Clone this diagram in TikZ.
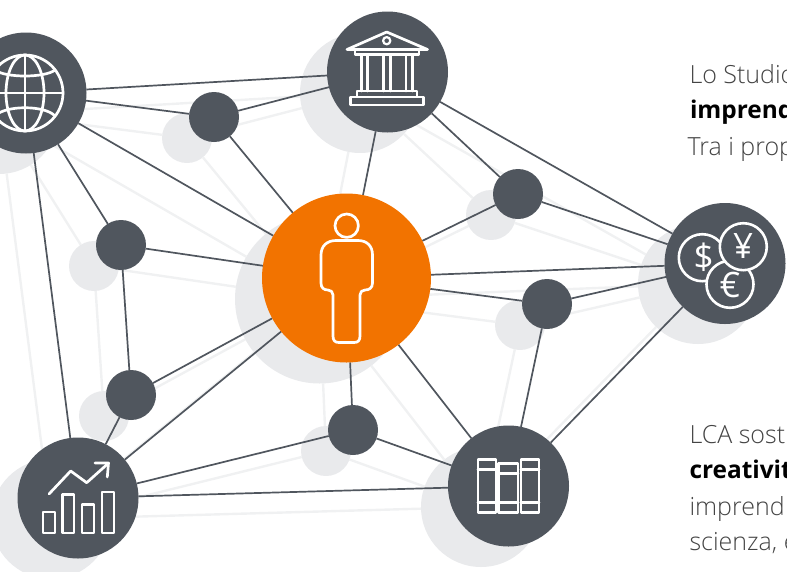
\documentclass[tikz,border=0pt]{standalone}
\usepackage{fontspec}
\setmainfont{Open Sans Light}
\newfontfamily\osbold{Open Sans}
\newfontfamily\osreg{Open Sans}
\usetikzlibrary{backgrounds}
\definecolor{nodegray}{HTML}{50565E}
\definecolor{shadowgray}{HTML}{E9EAEC}
\definecolor{shadowline}{HTML}{F0F1F2}
\definecolor{brandorange}{HTML}{F27300}
\definecolor{bodytext}{HTML}{444444}
\pgfdeclarelayer{back}
\pgfdeclarelayer{mid}
\pgfsetlayers{back,mid,main}
\tikzset{
  bighub/.style={circle,fill=nodegray,minimum size=121pt,inner sep=0pt,outer sep=0pt},
  smallhub/.style={circle,fill=nodegray,minimum size=50pt,inner sep=0pt,outer sep=0pt},
  corehub/.style={circle,fill=brandorange,minimum size=169pt,inner sep=0pt,outer sep=0pt},
  bigshade/.style={circle,fill=shadowgray,minimum size=120pt,inner sep=0pt,outer sep=0pt},
  smallshade/.style={circle,fill=shadowgray,minimum size=50pt,inner sep=0pt,outer sep=0pt},
  coreshade/.style={circle,fill=shadowgray,minimum size=169pt,inner sep=0pt,outer sep=0pt},
  link/.style={draw=nodegray,line width=1.7pt},
  shadelink/.style={draw=shadowline,line width=2.4pt},
  icon/.style={draw=white,line width=2.7pt,line join=round,line cap=round},
  para/.style={anchor=base west,inner sep=0pt,outer sep=0pt,text=bodytext,font=\fontsize{25}{30}\selectfont},
  parab/.style={anchor=base west,inner sep=0pt,outer sep=0pt,text=black,font=\osbold\bfseries\fontsize{24.4}{30}\selectfont},
  coin/.style={circle,draw=white,fill=nodegray,line width=2.6pt,minimum size=47pt,inner sep=0pt},
  coinsign/.style={text=white,inner sep=0pt,font=\osreg\fontsize{35}{35}\selectfont}
}
\begin{document}
\begin{tikzpicture}[x=1pt,y=-1pt]
\useasboundingbox (0,0) rectangle (787,571);
% main hubs
\node[bighub] (globe) at (26,93) {};
\node[bighub] (bank) at (387.5,72) {};
\node[bighub] (money) at (725,263.5) {};
\node[bighub] (books) at (508.5,486) {};
\node[bighub] (chart) at (78,498) {};
\node[corehub] (core) at (346.5,278) {};
\node[smallhub] (a) at (214,117) {};
\node[smallhub] (b) at (121,245) {};
\node[smallhub] (c) at (131,395) {};
\node[smallhub] (d) at (353,430) {};
\node[smallhub] (e) at (547,304) {};
\node[smallhub] (f) at (518,194) {};
% shadow network
\begin{pgfonlayer}{back}
\node[bigshade] (sglobe) at (-1,114) {};
\node[bigshade] (sbank) at (360,93) {};
\node[bigshade] (smoney) at (698,284) {};
\node[bigshade] (sbooks) at (481,507) {};
\node[bigshade] (schart) at (51,519) {};
\node[coreshade] (score) at (319.5,299) {};
\node[smallshade] (sa) at (187,138) {};
\node[smallshade] (sb) at (94,266) {};
\node[smallshade] (sc) at (104,416) {};
\node[smallshade] (sd) at (326,451) {};
\node[smallshade] (se) at (520,325) {};
\node[smallshade] (sf) at (491,215) {};
\foreach \p/\q in {globe/bank,globe/a,globe/core,globe/b,globe/chart,a/bank,a/core,b/core,b/c,c/core,c/chart,chart/core,chart/d,chart/books,d/core,d/books,core/bank,core/f,core/money,core/e,core/books,bank/f,bank/money,f/money,e/money,e/books,money/books}
  \draw[shadelink] (s\p) -- (s\q);
\end{pgfonlayer}
% connectors
\begin{pgfonlayer}{mid}
\foreach \p/\q in {globe/bank,globe/a,globe/core,globe/b,globe/chart,a/bank,a/core,b/core,b/c,c/core,c/chart,chart/core,chart/d,chart/books,d/core,d/books,core/bank,core/f,core/money,core/e,core/books,bank/f,bank/money,f/money,e/money,e/books,money/books}
  \draw[link] (\p) -- (\q);
\end{pgfonlayer}
% globe icon
\draw[icon] (25,93) circle (38);
\draw[icon] (25,93) ellipse (19 and 38);
\draw[icon] (25,55) -- (25,131);
\draw[icon] (-13,93) -- (63,93);
\draw[icon] (-5,70) .. controls (5,78) and (45,78) .. (55,70);
\draw[icon] (-5,116) .. controls (5,105) and (45,105) .. (55,116);
% bank icon
\draw[icon] (386.7,32) -- (347,49.5) -- (427.5,49.5) -- cycle;
\draw[icon,line width=2.2pt] (386.7,40.7) circle (3.6);
\draw[icon] (355,50) -- (355,54.5) -- (419,54.5) -- (419,50);
\foreach \xa/\xb in {361.5/367.5,383.5/390.5,406/412.5}
  \draw[icon] (\xa,55) -- (\xa,91) (\xb,55) -- (\xb,91);
\draw[icon] (357,91) rectangle (417,97);
\draw[icon] (350.5,97) rectangle (423.5,105);
% money icon
\node[coin] (dollar) at (702.3,257.7) {};
\node[coin] (euro) at (730,284.3) {};
\node[coin] (yen) at (743.3,246.7) {};
\node[coinsign] (dollarsign) at (703.5,257.5) {\$};
\node[coinsign] (eurosign) at (730,285) {€};
\node[coinsign] (yensign) at (743,246) {¥};
% chart icon
\draw[icon] (43,512) rectangle (55,533);
\draw[icon] (62.5,494.5) rectangle (74,533);
\draw[icon] (82,504.5) rectangle (94,533);
\draw[icon] (102,492) rectangle (114,533);
\draw[icon] (49,494) -- (70.7,471) -- (86.7,482.7) -- (108.3,463.3);
\draw[icon] (95,463) -- (108.5,463) -- (107.3,477);
% books icon
\draw[icon] (478,459.5) rectangle (496,512.5);
\draw[icon] (498.5,463.5) rectangle (518,512.5);
\draw[icon] (521,459.5) rectangle (539,512.5);
\draw[icon] (478,469.5) -- (496,469.5) (478,502.5) -- (496,502.5);
\draw[icon] (498.5,473.5) -- (518,473.5) (498.5,502.5) -- (518,502.5);
\draw[icon] (521,469.5) -- (539,469.5) (521,502.5) -- (539,502.5);
% person icon
\draw[icon] (346.7,225.7) circle (11.7);
\draw[icon] (336,240.5) -- (358,240.5)
  .. controls (367,240.5) and (372.5,246) .. (372.5,255)
  -- (372.5,283) .. controls (372.5,288) and (369,290) .. (365,290)
  .. controls (362,290) and (360,292) .. (360,295)
  -- (360,336) .. controls (360,340.5) and (358,342.5) .. (354,342.5)
  -- (339,342.5) .. controls (335,342.5) and (333,340.5) .. (333,336)
  -- (333,295) .. controls (333,292) and (331,290) .. (328,290)
  .. controls (324,290) and (321,288) .. (321,283)
  -- (321,255) .. controls (321,246) and (327,240.5) .. (336,240.5) -- cycle;
% clipped text
\node[para] (t1) at (689.5,83) {Lo Studio};
\node[parab] (t2) at (690,118) {imprend};
\node[para] (t3) at (687.5,155) {Tra i prop};
\node[para] (t4) at (689.5,443) {LCA sost};
\node[parab] (t5) at (689.5,478) {creativit};
\node[para] (t6) at (689.5,515) {imprend};
\node[para] (t7) at (689.5,550) {scienza, e};
\end{tikzpicture}
\end{document}
